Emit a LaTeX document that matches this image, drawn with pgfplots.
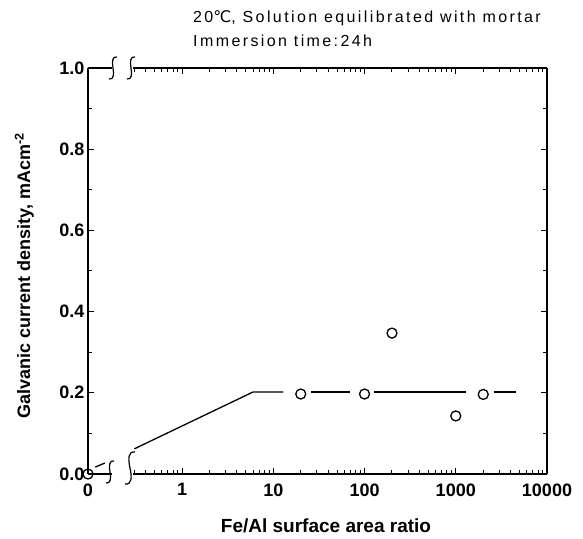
\documentclass[border=0pt]{standalone}
\usepackage{pgfplots}
\pgfplotsset{compat=1.18}
\usepackage{fontspec}
\setmainfont{Liberation Sans}
\newfontfamily\dejavu{DejaVu Sans}
\newfontfamily\titlefont[LetterSpace=15]{Liberation Sans}
\newcommand\squig[2]{\draw[line width=1.2pt] (#1-4,#2-11) .. controls (#1+1,#2-12) and (#1+1,#2-6) .. (#1,#2) .. controls (#1-1,#2+6) and (#1-1,#2+12) .. (#1+4,#2+11);}
\newcommand\bigsquig[2]{\draw[line width=1.2pt] (#1-5,#2-16) .. controls (#1+2,#2-17) and (#1+2,#2-9) .. (#1,#2) .. controls (#1-2,#2+9) and (#1-2,#2+17) .. (#1+5,#2+16);}
\begin{document}
\begin{tikzpicture}[x=1pt,y=1pt]
\useasboundingbox (0,0) rectangle (583,538);
% left stub axis (holds x = 0)
\begin{axis}[
 at={(88pt,64pt)}, anchor=south west, scale only axis, width=24pt, height=406pt,
 xmin=0, xmax=1, ymin=0, ymax=1,
 axis x line=box, axis y line=left, axis line style={-, line width=1.2pt},
 clip=false, tick align=inside,
 xtick={0}, xticklabels={0}, xtick style={draw=none},
 ytick={0,0.2,0.4,0.6,0.8,1.0}, yticklabels={0.0,0.2,0.4,0.6,0.8,1.0},
 minor y tick num=1, ytick pos=left,
 ticklabel style={font=\fontsize{18}{20}\selectfont\bfseries},
 xticklabel style={yshift=-6pt},
 major tick length=6pt, minor tick length=4pt,
 every tick/.style={black, line width=1pt},
]
\addplot[black, line width=1.3pt] coordinates {(0.3,0.017) (0.7,0.027)};
\addplot[black, line width=1.3pt, only marks, mark=o, mark size=5pt, mark options={fill=white}] coordinates {(0,0)};
\end{axis}
% main log axis
\begin{axis}[
 at={(133pt,64pt)}, anchor=south west, scale only axis, width=414pt, height=406pt,
 xmode=log, xmin=0.29, xmax=10000, ymin=0, ymax=1,
 axis x line=box, axis y line=right, axis line style={-, line width=1.2pt},
 tick align=inside,
 xtick={1,10,100,1000,10000}, xticklabels={1,10,100,1000,10000},
 minor xtick={0.3,0.4,0.5,0.6,0.7,0.8,0.9,2,3,4,5,6,7,8,9,20,30,40,50,60,70,80,90,200,300,400,500,600,700,800,900,2000,3000,4000,5000,6000,7000,8000,9000},
 ytick={0,0.2,0.4,0.6,0.8,1.0}, yticklabels={}, minor y tick num=1,
 ticklabel style={font=\fontsize{18}{20}\selectfont\bfseries},
 xticklabel style={yshift=-6pt},
 major tick length=6pt, minor tick length=4pt,
 every tick/.style={black, line width=1pt},
]
\addplot[black, line width=1.3pt] coordinates {(0.3,0.062) (6,0.202) (12.9,0.202)};
\addplot[black, line width=1.3pt] coordinates {(26,0.202) (70,0.202)};
\addplot[black, line width=1.3pt] coordinates {(126,0.202) (1290,0.202)};
\addplot[black, line width=1.3pt] coordinates {(2620,0.202) (4560,0.202)};
\addplot[black, line width=1.3pt, only marks, mark=o, mark size=5pt] coordinates {(20,0.197) (100,0.197) (200,0.347) (1000,0.143) (2000,0.196)};
\end{axis}
% axis break marks
\squig{113}{470}
\squig{131}{470}
\squig{110}{66}
\bigsquig{130}{70}
% texts
\node[anchor=base west, inner sep=0pt, font=\titlefont\fontsize{16}{18}\selectfont] at (193,515) {20{\dejavu ℃}, Solution equilibrated with mortar};
\node[anchor=base west, inner sep=0pt, font=\titlefont\fontsize{16}{18}\selectfont] at (193,491) {Immersion time:24h};
\node[rotate=90, anchor=base, inner sep=0pt, font=\fontsize{18}{20}\selectfont\bfseries] at (30,262) {Galvanic current density, mAcm\textsuperscript{-2}};
\node[anchor=base, inner sep=0pt, font=\fontsize{19}{21}\selectfont\bfseries] at (326,6) {Fe/Al surface area ratio};
\end{tikzpicture}
\end{document}
